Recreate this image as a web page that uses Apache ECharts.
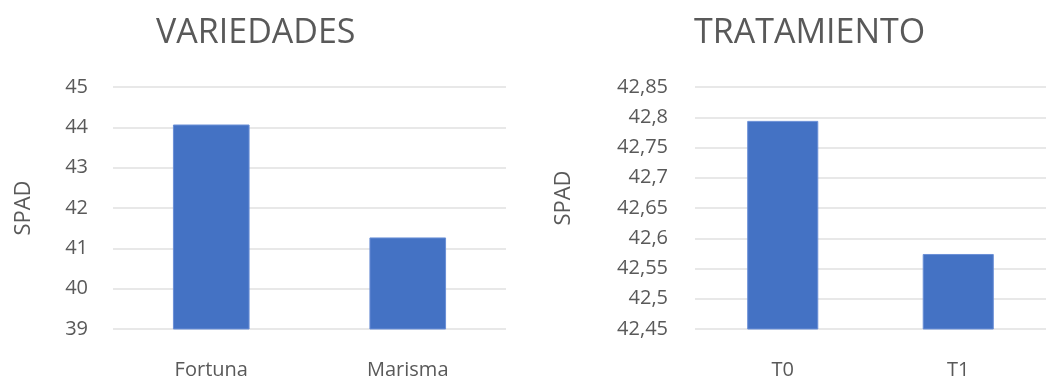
<!DOCTYPE html>
<html>
<head>
<meta charset="utf-8">
<script src="https://cdn.jsdelivr.net/npm/echarts@6/dist/echarts.min.js"></script>
<style>
html,body{margin:0;padding:0;background:#fff;}
#c{width:1046px;height:380px;}
</style>
</head>
<body>
<div id="c"></div>
<script>
// Data
const varCategories = ['Fortuna', 'Marisma'];
const varValues = [44.07, 41.27];
const tratCategories = ['T0', 'T1'];
const tratValues = [42.794, 42.574];
const titleVar = 'VARIEDADES';
const titleTrat = 'TRATAMIENTO';
const yName = 'SPAD';

const FONT = '"Open Sans", sans-serif';
const GRAY = '#595959';
const BAR = '#4472C4';

function fmtComma(v) {
  return String(+(+v).toFixed(2)).replace('.', ',');
}

const chart = echarts.init(document.getElementById('c'));
chart.setOption({
  backgroundColor: '#fff',
  animation: false,
  title: [
    { text: titleVar, left: 151, top: 11,
      textStyle: { fontFamily: FONT, fontSize: 34, fontWeight: 'normal', color: GRAY } },
    { text: titleTrat, left: 689, top: 11,
      textStyle: { fontFamily: FONT, fontSize: 34, fontWeight: 'normal', color: GRAY } }
  ],
  grid: [
    { left: 113, right: 540, top: 87, bottom: 51 },
    { left: 695, right: 0, top: 87, bottom: 51 }
  ],
  xAxis: [
    { type: 'category', gridIndex: 0, data: varCategories,
      axisLine: { show: false }, axisTick: { show: false },
      axisLabel: { fontFamily: FONT, fontSize: 20, color: GRAY, margin: 31 } },
    { type: 'category', gridIndex: 1, data: tratCategories,
      axisLine: { show: false }, axisTick: { show: false },
      axisLabel: { fontFamily: FONT, fontSize: 20, color: GRAY, margin: 31 } }
  ],
  yAxis: [
    { type: 'value', gridIndex: 0, min: 39, max: 45, interval: 1,
      name: yName, nameLocation: 'middle', nameGap: 78,
      nameTextStyle: { fontFamily: FONT, fontSize: 22, color: GRAY },
      axisLine: { show: false }, axisTick: { show: false },
      axisLabel: { fontFamily: FONT, fontSize: 20, color: GRAY, margin: 25 },
      splitLine: { lineStyle: { color: '#e0e0e0', width: 1.5 } } },
    { type: 'value', gridIndex: 1, min: 42.45, max: 42.85, interval: 0.05,
      name: yName, nameLocation: 'middle', nameGap: 120,
      nameTextStyle: { fontFamily: FONT, fontSize: 22, color: GRAY, padding: [0, 0, 0, 20] },
      axisLine: { show: false }, axisTick: { show: false },
      axisLabel: { fontFamily: FONT, fontSize: 20, color: GRAY, margin: 27, formatter: fmtComma },
      splitLine: { lineStyle: { color: '#e0e0e0', width: 1.5 } } }
  ],
  series: [
    { type: 'bar', xAxisIndex: 0, yAxisIndex: 0, data: varValues, barWidth: '39%',
      itemStyle: { color: BAR, borderColor: '#6a8fd6', borderWidth: 1 } },
    { type: 'bar', xAxisIndex: 1, yAxisIndex: 1, data: tratValues, barWidth: '40.5%',
      itemStyle: { color: BAR, borderColor: '#6a8fd6', borderWidth: 1 } }
  ]
});
</script>
</body>
</html>
